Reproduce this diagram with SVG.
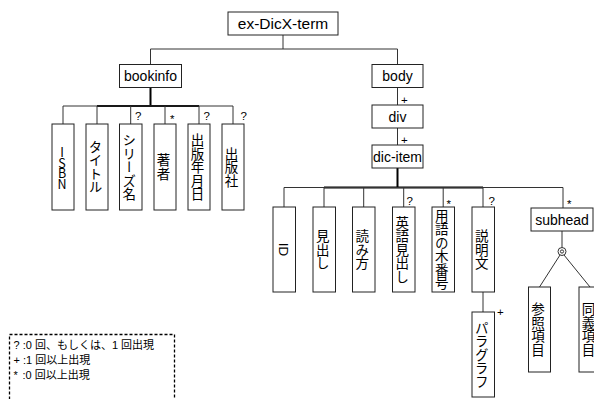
<svg xmlns="http://www.w3.org/2000/svg" width="594" height="399" viewBox="0 0 594 399">
<style>
.box{fill:#fff;stroke:#222;stroke-width:1}
.ln{fill:none;stroke:#333;stroke-width:1}
.thick{fill:none;stroke:#000;stroke-width:2}
.lbl{font-family:"Liberation Sans",Arial,sans-serif;font-size:14px;fill:#000;text-anchor:middle}
.vt{font-family:"Noto Sans CJK JP",sans-serif;font-size:13.5px;fill:#000;text-anchor:middle;writing-mode:vertical-rl}
.isbn{font-family:"Noto Sans CJK JP",sans-serif;font-size:12.5px;letter-spacing:-2px;fill:#000;text-anchor:middle;writing-mode:vertical-rl;text-orientation:upright}
.occ{font-family:"Liberation Sans",Arial,sans-serif;font-size:11.5px;fill:#000}
.leg{font-family:"Liberation Sans","Noto Sans CJK JP",sans-serif;font-size:11px;fill:#000}
</style>
<rect width="594" height="399" fill="#fff"/>
<g id="connectors">
<path class="ln" d="M283 35V49M150.5 49H397.5M150.5 49V64.5M397.5 49V64.5M397.5 87.5V105M397.5 128V145"/>
<path class="thick" d="M150.5 87.5V106M97 106H199"/>
<path class="ln" d="M63 106H233M63 106V124M97 106V124M130.7 106V124M165 106V124M199 106V124M233 106V124"/>
<path class="thick" d="M397.5 168V187.5M324 187.5H483"/>
<path class="ln" d="M284 187.5H563M284 187.5V207M324 187.5V207M363.7 187.5V207M403.7 187.5V207M443.2 187.5V207M483 187.5V207M563 187.5V208"/>
<path class="ln" d="M483 292V312"/>
<path class="ln" d="M562 231V247.5M560 255L539.5 287M564 255L590 287"/>
<circle class="ln" cx="562" cy="251.5" r="4"/>
<circle class="ln" cx="562" cy="251.5" r="1.6"/>
<text class="occ" x="401" y="104">+</text>
<text class="occ" x="401" y="144">+</text>
<text class="occ" x="497" y="315.5">+</text>
<text class="occ" x="135" y="120">?</text>
<text class="occ" x="170" y="123">*</text>
<text class="occ" x="203.5" y="120">?</text>
<text class="occ" x="240.5" y="120">?</text>
<text class="occ" x="406.5" y="205">?</text>
<text class="occ" x="446.5" y="208">*</text>
<text class="occ" x="488.5" y="205">?</text>
<text class="occ" x="567" y="208">*</text>
</g>
<g id="root"><rect class="box" x="228" y="12" width="110" height="23"/><text class="lbl" x="283" y="28.5" style="font-size:15.5px">ex-DicX-term</text></g>
<g id="bookinfo"><rect class="box" x="119.5" y="64.5" width="62" height="23"/><text class="lbl" x="150.5" y="81">bookinfo</text></g>
<g id="body"><rect class="box" x="372" y="64.5" width="51" height="23"/><text class="lbl" x="397.5" y="81">body</text></g>
<g id="div"><rect class="box" x="372" y="105" width="51" height="23"/><text class="lbl" x="397.5" y="121.5">div</text></g>
<g id="dic-item"><rect class="box" x="372" y="145" width="51" height="23"/><text class="lbl" x="397.5" y="161.5">dic-item</text></g>
<g id="isbn"><rect class="box" x="52" y="124" width="22" height="86"/><text class="isbn" x="62" y="167">ISBN</text></g>
<g id="title"><rect class="box" x="86" y="124" width="22" height="86"/><text class="vt" x="95.5" y="167">タイトル</text></g>
<g id="series"><rect class="box" x="119.5" y="124" width="22.5" height="86"/><text class="vt" x="129.2" y="167">シリーズ名</text></g>
<g id="author"><rect class="box" x="154" y="124" width="22" height="86"/><text class="vt" x="163.5" y="167">著者</text></g>
<g id="pubdate"><rect class="box" x="188" y="124" width="22" height="86"/><text class="vt" x="197.5" y="167">出版年月日</text></g>
<g id="publisher"><rect class="box" x="222" y="124" width="22" height="86"/><text class="vt" x="231.5" y="167">出版社</text></g>
<g id="id"><rect class="box" x="273" y="207" width="22.5" height="85"/><text class="vt" x="283" y="249.5" style="font-family:'Liberation Sans',Arial,sans-serif">ID</text></g>
<g id="midashi"><rect class="box" x="313" y="207" width="22.5" height="85"/><text class="vt" x="322.7" y="249.5">見出し</text></g>
<g id="yomi"><rect class="box" x="352.5" y="207" width="22.5" height="85"/><text class="vt" x="362.2" y="249.5">読み方</text></g>
<g id="eigo"><rect class="box" x="392.5" y="207" width="22.5" height="85"/><text class="vt" x="402.2" y="249.5">英語見出し</text></g>
<g id="tree"><rect class="box" x="432" y="207" width="22.5" height="85"/><text class="vt" x="441.7" y="249.5">用語の木番号</text></g>
<g id="setsumei"><rect class="box" x="472" y="207" width="22.5" height="85"/><text class="vt" x="481.7" y="249.5">説明文</text></g>
<g id="paragraph"><rect class="box" x="472" y="312" width="22.5" height="85"/><text class="vt" x="481.7" y="354.5">パラグラフ</text></g>
<g id="subhead"><rect class="box" x="531" y="208" width="62" height="23"/><text class="lbl" x="562" y="224.5">subhead</text></g>
<g id="sansho"><rect class="box" x="528.5" y="287" width="22" height="85"/><text class="vt" x="538" y="329.5">参照項目</text></g>
<g id="dougi"><rect class="box" x="579" y="287" width="22" height="85"/><text class="vt" x="588.5" y="329.5">同義項目</text></g>
<g id="legend">
<rect x="9.5" y="334.5" width="165" height="80" fill="none" stroke="#000" stroke-width="1.3" stroke-dasharray="3,2"/>
<text class="leg" x="13.5" y="349">? :0 回、もしくは、1 回出現</text>
<text class="leg" x="13.5" y="364">+ :1 回以上出現</text>
<text class="leg"><tspan x="13.5" y="379">*</tspan><tspan x="22.5" y="379">:0 回以上出現</tspan></text>
</g>
</svg>
